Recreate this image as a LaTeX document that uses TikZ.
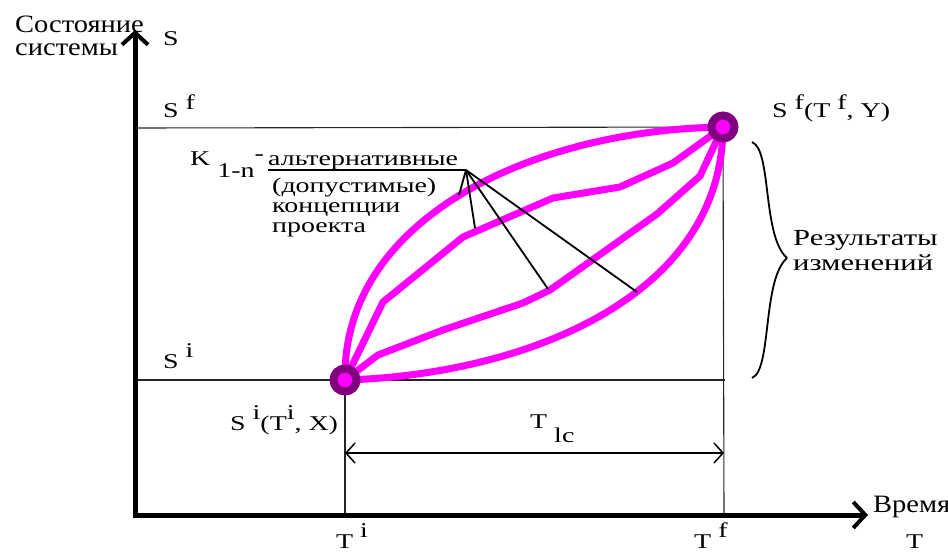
\documentclass[tikz,border=0pt]{standalone}
\usepackage{fontspec}
\usepackage{graphicx}
\setmainfont{Liberation Serif}
\usetikzlibrary{arrows.meta}
\definecolor{mag}{HTML}{FF00FF}
\definecolor{purp}{HTML}{800080}
\newcommand\hs[1]{\scalebox{1.33}[1]{#1}}
\newcommand\hb[1]{\scalebox{1.14}[1]{#1}}
\newcommand\rs[2]{\raisebox{#1}{#2}}
\begin{document}
\begin{tikzpicture}[x=1pt,y=-1pt,
  txt/.style={inner sep=0pt, anchor=base west, font=\fontsize{21}{21}\selectfont},
  bigtxt/.style={inner sep=0pt, anchor=base west, font=\fontsize{25}{25}\selectfont},
  midtxt/.style={inner sep=0pt, anchor=base west, font=\fontsize{23}{23}\selectfont},
  axis/.style={line width=5pt, -{Straight Barb[length=12pt,width=26pt,line width=4pt]}},
  guide/.style={line width=1.1pt, draw=black!85},
  curve/.style={line width=7pt, draw=mag, line join=round, line cap=round},
  pointer/.style={line width=1.8pt},
  dimarrow/.style={line width=1.8pt, {Straight Barb[length=9pt,width=20pt,line width=1.5pt]}-{Straight Barb[length=9pt,width=20pt,line width=1.5pt]}},
  dot/.style={circle, draw=purp, fill=mag, line width=8pt, minimum size=23pt, inner sep=0pt}]
\useasboundingbox (0,0) rectangle (948,552);

% key coordinates
\coordinate (O) at (135,515);
\coordinate (si) at (345,380);
\coordinate (sf) at (723,127);
\coordinate (ysf) at (135,128);
\coordinate (ysi) at (135,380);
\coordinate (rsi) at (725,380);
\coordinate (xti) at (345,515);
\coordinate (xtf) at (724,515);
\coordinate (ytop) at (135,30);
\coordinate (xend) at (868,515);
\coordinate (xstart) at (132.5,515);
\coordinate (da) at (345,453);
\coordinate (db) at (724,453);

% guide lines
\draw[guide] (ysf) -- (sf);
\draw[guide] (ysi) -- (rsi);
\draw[guide] (sf) -- (xtf);
\draw[guide] (si) -- (xti);

% axes
\draw[axis] (O) -- (ytop);
\draw[axis] (xstart) -- (xend);

% dimension arrow
\draw[dimarrow] (da) -- (db);

% curves
\draw[curve] (si) .. controls (342,220) and (530,130) .. (sf);
\draw[curve] (si) -- (383,302) -- (463,237) -- (553,198) -- (620,187) -- (673,163) -- (sf);
\draw[curve] (si) -- (378,355) -- (443,330) -- (523,303) -- (550,290) -- (657,214) -- (700,176) -- (sf);
\draw[curve] (si) .. controls (520,375) and (722,300) .. (sf);

% dots
\node[dot] (dotI) at (si) {};
\node[dot] (dotF) at (sf) {};

% pointer lines
\coordinate (jn) at (466,170);
\coordinate (ul) at (268,170);
\coordinate (p1) at (459,195);
\coordinate (p2) at (475,228);
\coordinate (p3) at (548,289);
\coordinate (p4) at (637,292);
\draw[pointer] (ul) -- (jn);
\draw[pointer] (jn) -- (p1);
\draw[pointer] (jn) -- (p2);
\draw[pointer] (jn) -- (p3);
\draw[pointer] (jn) -- (p4);

% brace
\coordinate (bt) at (752,142);
\coordinate (bm) at (787,258);
\coordinate (bb) at (752,378);
\draw[line width=1.8pt] (bt) .. controls (772,150) and (762,236) .. (bm);
\draw[line width=1.8pt] (bm) .. controls (762,280) and (772,370) .. (bb);

% texts
\node[bigtxt] (st1) at (15,32) {\hb{Состояние}};
\node[bigtxt] (st2) at (15,55) {\hb{системы}};
\node[txt] (lS) at (163,45) {\hs{S}};
\node[txt] (lSf) at (163,117) {\hs{S \rs{8pt}{f}}};
\node[txt] (lK) at (190,165) {\hs{K \rs{-12pt}{1-n}\rs{5pt}{-}}};
\node[txt] (a1) at (268,165) {\hs{альтернативные}};
\node[txt] (a2) at (272,192) {\hs{(допустимые)}};
\node[txt] (a3) at (272,212) {\hs{концепции}};
\node[txt] (a4) at (272,232) {\hs{проекта}};
\node[txt] (lSfT) at (772,117) {\hs{S \rs{8pt}{f}(T \rs{8pt}{f}, Y)}};
\node[midtxt] (r1) at (793,245) {\hs{Результаты}};
\node[midtxt] (r2) at (793,270) {\hs{изменений}};
\node[txt] (lSi) at (163,368) {\hs{S \rs{11pt}{i}}};
\node[txt] (lSiT) at (230,430) {\hs{S \rs{11pt}{i}(T\rs{11pt}{i}, X)}};
\node[txt] (lTlc) at (530,428) {\hs{T \rs{-14pt}{lc}}};
\node[txt] (lTi) at (336,548) {\hs{T \rs{11pt}{i}}};
\node[txt] (lTf) at (694,548) {\hs{T \rs{11pt}{f}}};
\node[txt] (lT) at (906,548) {\hs{T}};
\node[bigtxt] (lt) at (873,512) {\hb{Время}};
\end{tikzpicture}
\end{document}
